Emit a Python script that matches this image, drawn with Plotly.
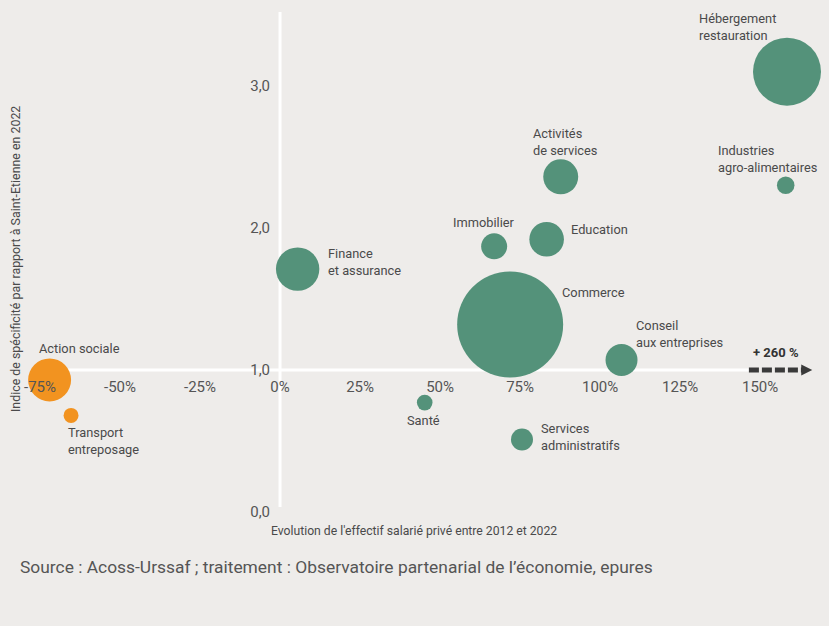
import plotly.graph_objects as go

# secteurs d'activité (libellés sur deux lignes quand nécessaire)
secteurs = [
    "Action sociale", "Transport<br>entreposage", "Finance<br>et assurance",
    "Santé", "Immobilier", "Commerce", "Education",
    "Activités<br>de services", "Services<br>administratifs",
    "Conseil<br>aux entreprises", "Hébergement<br>restauration",
    "Industries<br>agro-alimentaires",
]
# évolution de l'effectif salarié privé 2012-2022 (%)
evolution = [-72.0, -65.3, 5.5, 45.2, 66.9, 71.9, 83.3, 87.7, 75.6, 106.7, 158.4, 158.0]
# indice de spécificité par rapport à Saint-Etienne en 2022
indice = [0.93, 0.68, 1.71, 0.77, 1.87, 1.32, 1.92, 2.36, 0.51, 1.07, 3.10, 2.30]
# poids relatif (aire des bulles)
poids = [462, 56, 471, 61, 169, 2809, 299, 306, 121, 256, 1156, 77]

x_ticks = [-75, -50, -25, 0, 25, 50, 75, 100, 125, 150]
y_ticks = [0, 1, 2, 3]

# placement des libellés : (xanchor, xshift, yshift) en pixels autour de la bulle
placement = {
    "Action sociale": ("left", -12.6, 31),
    "Transport<br>entreposage": ("left", -5, -25.5),
    "Finance<br>et assurance": ("left", 28.3, 7),
    "Santé": ("center", -1.5, -18),
    "Immobilier": ("center", -10, 24),
    "Commerce": ("left", 50, 32),
    "Education": ("left", 22.5, 10),
    "Activités<br>de services": ("left", -29.5, 35),
    "Services<br>administratifs": ("left", 17, 2.5),
    "Conseil<br>aux entreprises": ("left", 12.5, 26.5),
    "Hébergement<br>restauration": ("left", -90, 45),
    "Industries<br>agro-alimentaires": ("left", -69.5, 26),
}

GREEN = "#54927a"
ORANGE = "#f29320"
BG = "#eeecea"
TXT = "#4a4a4a"
FONT = "Roboto"

W, H = 829, 626
M = dict(l=40, r=10, t=12, b=114)
x_range = [-75, 168.4]
y_range = [0, 3.52]


def px_x(p):
    # pixel horizontal -> coordonnée paper
    return (p - M["l"]) / (W - M["l"] - M["r"])


def px_y(p):
    # pixel vertical -> coordonnée paper
    return (H - M["b"] - p) / (H - M["t"] - M["b"])


couleurs = [ORANGE if v < 0 else GREEN for v in evolution]

fig = go.Figure()
fig.add_trace(go.Scatter(
    x=evolution, y=indice, mode="markers",
    marker=dict(size=poids, sizemode="area", sizeref=0.5,
                color=couleurs, opacity=1, line=dict(width=0)),
    cliponaxis=False, hoverinfo="text", text=secteurs,
))

annotations = []
for nom, xv, yv in zip(secteurs, evolution, indice):
    anchor, dx, dy = placement[nom]
    annotations.append(dict(
        x=xv, y=yv, xref="x", yref="y", text=nom, showarrow=False,
        xanchor=anchor, yanchor="middle", xshift=dx, yshift=dy, align="left",
        font=dict(family=FONT, size=12.8, color=TXT),
    ))

annotations += [
    dict(x=155, y=1, xref="x", yref="y", yshift=17, text="<b>+ 260 %</b>",
         showarrow=False, font=dict(family=FONT, size=13, color="#333333")),
    dict(x=px_x(414), y=px_y(531), xref="paper", yref="paper",
         text="Evolution de l'effectif salarié privé entre 2012 et 2022",
         showarrow=False, xanchor="center", yanchor="middle",
         font=dict(family=FONT, size=12.2, color=TXT)),
    dict(x=px_x(15), y=px_y(259), xref="paper", yref="paper",
         text="Indice de spécificité par rapport à Saint-Etienne en 2022",
         textangle=-90, showarrow=False, xanchor="center", yanchor="middle",
         font=dict(family=FONT, size=12.4, color=TXT)),
    dict(x=px_x(18), y=px_y(567), xref="paper", yref="paper",
         text="Source : Acoss-Urssaf ; traitement : Observatoire partenarial de l’économie, epures",
         showarrow=False, xanchor="left", yanchor="middle",
         font=dict(family=FONT, size=17.4, color="#555555")),
]

shapes = [
    # axe vertical (x = 0)
    dict(type="line", xref="x", yref="y", x0=0, x1=0, y0=0.035, y1=y_range[1],
         line=dict(color="white", width=3), layer="below"),
    # axe horizontal (indice = 1)
    dict(type="line", xref="x", yref="y", x0=-75, x1=146.5, y0=1, y1=1,
         line=dict(color="white", width=3), layer="below"),
    # flèche pointillée vers +260 %
    dict(type="line", xref="x", yref="y", x0=146.5, x1=163.5, y0=1, y1=1,
         line=dict(color="#3a3a3a", width=5, dash="10px,3px"), layer="above"),
    dict(type="path", xref="x", yref="y", xsizemode="pixel", ysizemode="pixel",
         xanchor=166.3, yanchor=1, path="M -11 -5.5 L 0 0 L -11 5.5 Z",
         fillcolor="#3a3a3a", line=dict(width=0), layer="above"),
]

fig.update_layout(
    width=W, height=H,
    margin=M,
    paper_bgcolor=BG, plot_bgcolor=BG,
    showlegend=False,
    separators=", ",
    annotations=annotations,
    shapes=shapes,
    xaxis=dict(
        range=x_range, anchor="free",
        position=(1 - y_range[0]) / (y_range[1] - y_range[0]),
        tickvals=x_ticks, ticktext=[f"{v}%" for v in x_ticks],
        showgrid=False, zeroline=False, showline=False, ticks="",
        ticklabelstandoff=6,
        tickfont=dict(family=FONT, size=15, color="#555555"),
    ),
    yaxis=dict(
        range=y_range, anchor="free",
        position=(0 - x_range[0]) / (x_range[1] - x_range[0]),
        tickvals=y_ticks, tickformat=".1f",
        showgrid=False, zeroline=False, showline=False, ticks="",
        ticklabelstandoff=10,
        tickfont=dict(family=FONT, size=15, color="#555555"),
    ),
)

fig.write_html("out.html", config={"displayModeBar": False},
               post_script="document.body.style.margin='0';")
